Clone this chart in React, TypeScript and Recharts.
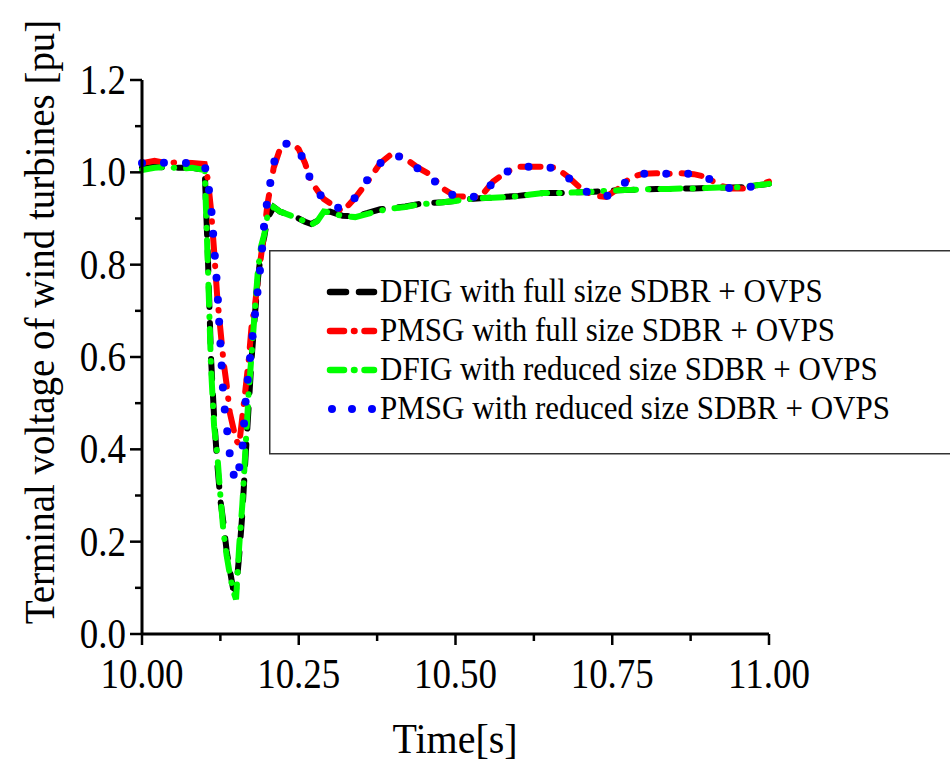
import React from 'react';
import { LineChart, Line, XAxis, YAxis, Legend } from 'recharts';

// time [s]
const time = [
  10.0, 10.02, 10.04, 10.06, 10.08, 10.1, 10.105, 10.11, 10.115, 10.12,
  10.125, 10.13, 10.135, 10.14, 10.145, 10.15, 10.155, 10.16, 10.165, 10.17,
  10.175, 10.18, 10.185, 10.19, 10.195, 10.2, 10.21, 10.22, 10.23, 10.24,
  10.25, 10.26, 10.27, 10.28, 10.29, 10.3, 10.32, 10.34, 10.36, 10.38,
  10.4, 10.42, 10.44, 10.46, 10.48, 10.5, 10.52, 10.54, 10.56, 10.58,
  10.6, 10.62, 10.64, 10.66, 10.68, 10.7, 10.72, 10.74, 10.76, 10.78,
  10.8, 10.82, 10.84, 10.86, 10.88, 10.9, 10.92, 10.94, 10.96, 10.98, 11.0,
];

// DFIG with full size SDBR + OVPS
const dfigFull = [
  1.01, 1.012, 1.01, 1.01, 1.01, 1.005, 0.82, 0.6, 0.47, 0.37,
  0.29, 0.24, 0.18, 0.14, 0.1, 0.095, 0.17, 0.26, 0.38, 0.49,
  0.6, 0.69, 0.77, 0.83, 0.86, 0.9, 0.925, 0.915, 0.91, 0.905,
  0.9, 0.893, 0.888, 0.895, 0.913, 0.915, 0.906, 0.905, 0.912, 0.92,
  0.923, 0.926, 0.931, 0.934, 0.935, 0.938, 0.942, 0.944, 0.945, 0.947,
  0.949, 0.952, 0.955, 0.955, 0.956, 0.957, 0.958, 0.96, 0.961, 0.962,
  0.963, 0.964, 0.964, 0.965, 0.965, 0.966, 0.967, 0.967, 0.968, 0.972, 0.975,
];

// PMSG with full size SDBR + OVPS
const pmsgFull = [
  1.02, 1.025, 1.02, 1.022, 1.02, 1.018, 0.985, 0.92, 0.83, 0.73,
  0.66, 0.59, 0.54, 0.48, 0.45, 0.42, 0.41, 0.47, 0.53, 0.59,
  0.67, 0.71, 0.77, 0.82, 0.87, 0.93, 1.01, 1.05, 1.062, 1.063,
  1.05, 1.02, 0.98, 0.96, 0.942, 0.933, 0.915, 0.945, 0.98, 1.02,
  1.042, 1.03, 1.01, 0.995, 0.965, 0.948, 0.947, 0.947, 0.98, 1.0,
  1.012, 1.012, 1.012, 1.01, 0.99, 0.965, 0.95, 0.947, 0.965, 0.99,
  0.997, 0.998, 0.997, 0.998, 0.996, 0.99, 0.972, 0.965, 0.965, 0.972, 0.98,
];

// DFIG with reduced size SDBR + OVPS
const dfigReduced = [
  1.005, 1.01, 1.012, 1.008, 1.01, 1.005, 0.8, 0.58, 0.45, 0.39,
  0.3, 0.22, 0.17, 0.13, 0.095, 0.075, 0.19, 0.28, 0.4, 0.52,
  0.61, 0.7, 0.79, 0.84, 0.865, 0.905, 0.925, 0.915, 0.91, 0.905,
  0.9, 0.893, 0.886, 0.895, 0.915, 0.913, 0.905, 0.903, 0.91, 0.917,
  0.922, 0.925, 0.93, 0.933, 0.935, 0.938, 0.942, 0.944, 0.945, 0.946,
  0.948, 0.952, 0.955, 0.955, 0.956, 0.957, 0.958, 0.96, 0.961, 0.962,
  0.963, 0.964, 0.964, 0.965, 0.965, 0.966, 0.967, 0.967, 0.968, 0.972, 0.975,
];

// PMSG with reduced size SDBR + OVPS
const pmsgReduced = [
  1.02, 1.022, 1.02, 1.02, 1.02, 1.015, 0.98, 0.93, 0.84, 0.75,
  0.63, 0.51, 0.45, 0.39, 0.35, 0.33, 0.36, 0.4, 0.5, 0.57,
  0.63, 0.69, 0.75, 0.81, 0.89, 0.94, 1.02, 1.05, 1.062, 1.063,
  1.048, 1.02, 0.978, 0.96, 0.94, 0.933, 0.918, 0.945, 0.985, 1.02,
  1.04, 1.028, 1.008, 0.99, 0.962, 0.948, 0.947, 0.947, 0.978, 1.0,
  1.012, 1.012, 1.012, 1.008, 0.988, 0.965, 0.95, 0.947, 0.965, 0.99,
  0.997, 0.998, 0.997, 0.998, 0.996, 0.99, 0.972, 0.965, 0.965, 0.972, 0.98,
];

const seriesNames = [
  'DFIG with full size SDBR + OVPS',
  'PMSG with full size SDBR + OVPS',
  'DFIG with reduced size SDBR + OVPS',
  'PMSG with reduced size SDBR + OVPS',
];
const seriesKeys = ['dfigFull', 'pmsgFull', 'dfigReduced', 'pmsgReduced'];
const seriesColors = ['#000000', '#ff0000', '#00ff00', '#0000ff'];
const seriesDash = ['20 16', '20 12 0.5 12', '20 12 0.5 12', '0 22'];
const legendDash = ['16 13', '14 10 0.5 10', '14 10 0.5 10', '0 20'];

const xTicks = [10, 10.125, 10.25, 10.375, 10.5, 10.625, 10.75, 10.875, 11];
const xTickLabels: Record<string, string> = {
  '10': '10.00', '10.25': '10.25', '10.5': '10.50', '10.75': '10.75', '11': '11.00',
};
const yTicks = [0, 0.1, 0.2, 0.3, 0.4, 0.5, 0.6, 0.7, 0.8, 0.9, 1.0, 1.1, 1.2];
const yTickLabels: Record<string, string> = {
  '0': '0.0', '0.2': '0.2', '0.4': '0.4', '0.6': '0.6', '0.8': '0.8', '1': '1.0', '1.2': '1.2',
};

const data = time.map((t, i) => ({
  t,
  dfigFull: dfigFull[i],
  pmsgFull: pmsgFull[i],
  dfigReduced: dfigReduced[i],
  pmsgReduced: pmsgReduced[i],
}));

const FONT = '"Liberation Serif", "Times New Roman", serif';

const XTick = (props: any) => {
  const { x, y, payload } = props;
  const label = xTickLabels[String(payload.value)];
  return (
    <g>
      <line x1={x} y1={y} x2={x} y2={y + (label ? 11 : 7)} stroke="#000" strokeWidth={2.5} />
      {label && (
        <g transform={`translate(${x} ${y + 54}) scale(1 1.15)`}>
          <text x={0} y={0} textAnchor="middle" fontFamily={FONT} fontSize={37} fill="#000">
            {label}
          </text>
        </g>
      )}
    </g>
  );
};

const YTick = (props: any) => {
  const { x, y, payload } = props;
  const label = yTickLabels[String(payload.value)];
  return (
    <g>
      <line x1={x} y1={y} x2={x - (label ? 12 : 7)} y2={y} stroke="#000" strokeWidth={2.5} />
      {label && (
        <g transform={`translate(${x - 16} ${y + 14}) scale(1 1.15)`}>
          <text x={0} y={0} textAnchor="end" fontFamily={FONT} fontSize={37} fill="#000">
            {label}
          </text>
        </g>
      )}
    </g>
  );
};

const LegendBox = () => (
  <svg width={690} height={206} style={{ display: 'block' }}>
    <rect x={0.75} y={0.75} width={700} height={203} fill="#fff" stroke="#333" strokeWidth={1.5} />
    {seriesNames.map((name, i) => {
      const cy = 42 + i * 39;
      return (
        <g key={name}>
          <line
            x1={i === 3 ? 63 : 61} y1={cy} x2={i === 3 ? 104 : 105} y2={cy}
            stroke={seriesColors[i]}
            strokeWidth={i === 3 ? 8 : 6.5}
            strokeLinecap="round"
            strokeDasharray={legendDash[i]}
          />
          <g transform={`translate(111 ${cy + 10}) scale(1 1.1)`}>
            <text x={0} y={0} fontFamily={FONT} fontSize={31} fill="#000">
              {name}
            </text>
          </g>
        </g>
      );
    })}
  </svg>
);

export default function App() {
  return (
    <div style={{ position: 'absolute', left: 0, top: 0, width: 950, height: 767, overflow: 'hidden', background: '#fff' }}>
      <LineChart width={950} height={767} data={data} margin={{ top: 80, right: 181, bottom: 0, left: 0 }}>
        <XAxis
          dataKey="t"
          type="number"
          domain={[10, 11]}
          ticks={xTicks}
          interval={0}
          height={133}
          tickSize={0}
          tickMargin={0}
          tickLine={false}
          tick={<XTick />}
          axisLine={{ stroke: '#000', strokeWidth: 3 }}
          label={{
            content: () => (
              <g transform="translate(455 753) scale(1 1.08)">
                <text x={0} y={0} textAnchor="middle" fontFamily={FONT} fontSize={40} fill="#000">
                  Time[s]
                </text>
              </g>
            ),
          }}
        />
        <YAxis
          type="number"
          domain={[0, 1.2]}
          ticks={yTicks}
          interval={0}
          width={142}
          tickSize={0}
          tickMargin={0}
          tickLine={false}
          tick={<YTick />}
          axisLine={{ stroke: '#000', strokeWidth: 3 }}
          label={{
            content: () => (
              <g transform="translate(54 322) rotate(-90) scale(1 1.1)">
                <text x={0} y={0} textAnchor="middle" fontFamily={FONT} fontSize={39} fill="#000">
                  Terminal voltage of wind turbines [pu]
                </text>
              </g>
            ),
          }}
        />
        <Legend
          layout="vertical"
          align="center"
          verticalAlign="middle"
          wrapperStyle={{ position: 'absolute', left: 269, top: 250, width: 690, height: 206 }}
          content={() => <LegendBox />}
        />
        {seriesKeys.map((key, i) => (
          <Line
            key={key}
            dataKey={key}
            name={seriesNames[i]}
            type="linear"
            stroke={seriesColors[i]}
            strokeWidth={i === 3 ? 8 : 6}
            strokeLinecap="round"
            strokeDasharray={seriesDash[i]}
            dot={false}
            activeDot={false}
            isAnimationActive={false}
          />
        ))}
      </LineChart>
    </div>
  );
}
